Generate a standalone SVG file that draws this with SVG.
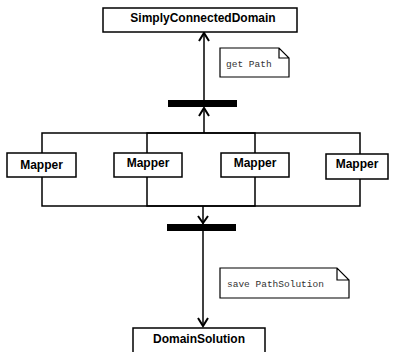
<svg xmlns="http://www.w3.org/2000/svg" width="393" height="352" viewBox="0 0 393 352">
  <style>
    .box { fill: #fff; stroke: #000; stroke-width: 1.5; }
    .lbl { font-family: "Liberation Sans", Arial, sans-serif; font-weight: bold; font-size: 12px; fill: #000; text-anchor: middle; }
    .note { fill: #fff; stroke: #000; stroke-width: 1.2; }
    .ntxt { font-family: "Liberation Mono", "Courier New", monospace; font-size: 9.5px; fill: #333; }
    .wire { fill: none; stroke: #000; stroke-width: 1.5; }
    .head { fill: none; stroke: #000; stroke-width: 2; stroke-linejoin: miter; }
    .bar { fill: #000; }
  </style>

  <!-- connectors -->
  <g id="connectors">
    <!-- fork/join frames joining the mappers -->
    <polyline class="wire" points="42,162 42,133 255,133 255,162"/>
    <polyline class="wire" points="42,165 42,206 255,206 255,165"/>
    <polyline class="wire" points="147,162 147,133 360,133 360,162"/>
    <polyline class="wire" points="147,165 147,206 360,206 360,165"/>
    <!-- up to the fork bar -->
    <line class="wire" x1="204" y1="133" x2="204" y2="108"/>
    <polyline class="head" points="199,116 204,108 209,116"/>
    <!-- bar up to SimplyConnectedDomain -->
    <line class="wire" x1="204" y1="100" x2="204" y2="33"/>
    <polyline class="head" points="199,41 204,33 209,41"/>
    <!-- down to the join bar -->
    <line class="wire" x1="203" y1="206" x2="203" y2="224"/>
    <polyline class="head" points="198,216 203,223 208,216"/>
    <!-- join bar down to DomainSolution -->
    <line class="wire" x1="203" y1="231" x2="203" y2="326"/>
    <polyline class="head" points="198,318 203,326 208,318"/>
  </g>

  <rect id="forkBar" class="bar" x="168" y="100" width="69" height="7"/>
  <rect id="joinBar" class="bar" x="167" y="224" width="69" height="7"/>

  <g id="simplyConnectedDomain">
    <rect class="box" x="103" y="8" width="194" height="24"/>
    <text class="lbl" x="203" y="22">SimplyConnectedDomain</text>
  </g>

  <g id="getPathNote">
    <path class="note" d="M220,48 H279 L289,58 V77 H220 Z M279,48 V58 H289"/>
    <text class="ntxt" x="226" y="67">get Path</text>
  </g>

  <g id="mapper1">
    <rect class="box" x="7" y="153" width="69" height="24"/>
    <text class="lbl" x="41.5" y="169">Mapper</text>
  </g>
  <g id="mapper2">
    <rect class="box" x="114" y="153" width="68" height="24"/>
    <text class="lbl" x="148" y="167">Mapper</text>
  </g>
  <g id="mapper3">
    <rect class="box" x="221" y="153" width="68" height="24"/>
    <text class="lbl" x="255" y="167">Mapper</text>
  </g>
  <g id="mapper4">
    <rect class="box" x="326" y="154" width="62" height="25"/>
    <text class="lbl" x="357" y="168">Mapper</text>
  </g>

  <g id="savePathSolutionNote">
    <path class="note" d="M220,268 H337 L349,280 V298 H220 Z M337,268 V280 H349"/>
    <text class="ntxt" x="227" y="287">save PathSolution</text>
  </g>

  <g id="domainSolution">
    <rect class="box" x="133" y="328" width="132" height="30"/>
    <text class="lbl" x="199" y="343">DomainSolution</text>
  </g>
</svg>
